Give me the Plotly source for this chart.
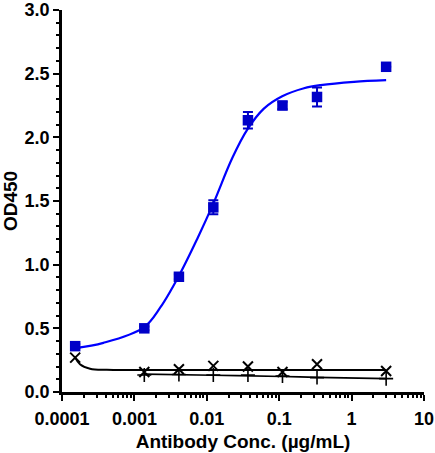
import plotly.graph_objects as go

# concentrations (ug/mL), 3-fold serial dilution
conc = [0.000152, 0.00137, 0.00412, 0.0123, 0.037, 0.111, 0.333, 3.0]
od_sample = [0.36, 0.50, 0.905, 1.45, 2.134, 2.25, 2.317, 2.554]
err_sample = [0.015, 0.015, 0.02, 0.055, 0.065, 0.03, 0.075, 0.0]

od_ctrl1 = [0.27, 0.157, 0.178, 0.205, 0.20, 0.157, 0.218, 0.165]
conc_ctrl2 = [0.00137, 0.00412, 0.0123, 0.037, 0.111, 0.333, 3.0]
od_ctrl2 = [0.134, 0.137, 0.134, 0.134, 0.126, 0.113, 0.105]

# fitted curves
fit_x = [0.000152, 0.000373, 0.00134, 0.00228, 0.00408, 0.00734, 0.0122,
         0.0224, 0.0362, 0.0614, 0.110, 0.22, 0.374, 1.08, 3.0]
fit_y = [0.345, 0.386, 0.506, 0.664, 0.908, 1.2, 1.475,
         1.835, 2.06, 2.225, 2.322, 2.385, 2.41, 2.436, 2.449]
fit1_x = [0.000152, 0.000177, 0.000244, 0.000416, 0.00137, 0.0123, 0.111, 3.0]
fit1_y = [0.27, 0.218, 0.183, 0.174, 0.173, 0.173, 0.173, 0.173]
fit2_x = [0.00137, 0.0123, 0.111, 0.333, 3.0]
fit2_y = [0.14, 0.132, 0.122, 0.115, 0.105]

blue = "#0000FF"
dark_blue = "#0000C8"
tick_font = dict(family="Liberation Sans", size=18, color="black", weight="bold")
title_font = dict(family="Liberation Sans", size=19, color="black", weight="bold")

fig = go.Figure()

fig.add_trace(go.Scatter(x=fit_x, y=fit_y, mode="lines",
                         line=dict(color=blue, width=2.2, shape="spline", smoothing=1)))
fig.add_trace(go.Scatter(x=fit1_x, y=fit1_y, mode="lines",
                         line=dict(color="black", width=2, shape="spline")))
fig.add_trace(go.Scatter(x=fit2_x, y=fit2_y, mode="lines",
                         line=dict(color="black", width=1.6, shape="spline")))

fig.add_trace(go.Scatter(x=conc, y=od_sample, mode="markers",
                         marker=dict(symbol="square", size=10.5, color=dark_blue),
                         error_y=dict(type="data", array=err_sample, color=dark_blue,
                                      thickness=2, width=5)))
fig.add_trace(go.Scatter(x=conc, y=od_ctrl1, mode="markers",
                         marker=dict(symbol="x-thin", size=10,
                                     line=dict(color="black", width=2))))
fig.add_trace(go.Scatter(x=conc_ctrl2, y=od_ctrl2, mode="markers",
                         marker=dict(symbol="cross-thin", size=10,
                                     line=dict(color="black", width=1.6))))

minor_x = [m * 10 ** e for e in range(-4, 1) for m in range(2, 10)]

fig.update_layout(
    width=435, height=453,
    margin=dict(l=62, r=11, t=10, b=61),
    plot_bgcolor="white", paper_bgcolor="white",
    showlegend=False,
    font=tick_font,
)
fig.update_xaxes(
    type="log", range=[-4, 1], automargin=False,
    tickvals=[0.0001, 0.001, 0.01, 0.1, 1, 10],
    ticktext=["0.0001", "0.001", "0.01", "0.1", "1", "10"],
    showline=True, linecolor="black", linewidth=2.5,
    ticks="outside", ticklen=6, tickwidth=2, tickcolor="black",
    ticklabelstandoff=3,
    minor=dict(tickvals=minor_x, ticks="outside", ticklen=3.5, tickwidth=1.5,
               tickcolor="black", showgrid=False),
    showgrid=False, zeroline=False,
    tickfont=tick_font,
    title=dict(text="Antibody Conc. (µg/mL)", standoff=7, font=title_font),
)
fig.update_yaxes(
    range=[0, 3], dtick=0.5, tickformat=".1f", automargin=False,
    showline=True, linecolor="black", linewidth=2.5,
    ticks="outside", ticklen=6, tickwidth=2, tickcolor="black",
    minor=dict(dtick=0.1, ticks="outside", ticklen=3.5, tickwidth=1.5,
               tickcolor="black", showgrid=False),
    showgrid=False, zeroline=False,
    tickfont=tick_font,
    title=dict(text="OD450", standoff=12, font=title_font),
)

fig.write_html("out.html", config={"displayModeBar": False},
               post_script="document.body.style.margin='0';")
